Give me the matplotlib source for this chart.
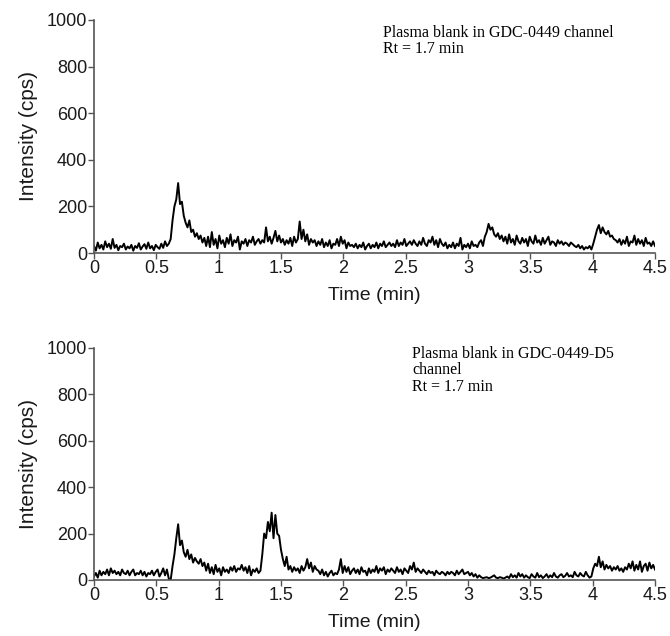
import numpy as np
import matplotlib
matplotlib.use("Agg")
import matplotlib.pyplot as plt

# sampling grid (min), one scan every 0.015 min
time_min = np.linspace(0.0, 4.5, 301)

# Plasma blank, GDC-0449 channel (cps)
top_cps = [
    30, 10, 45, 20, 35, 15, 50, 25, 40, 18,
    60, 22, 35, 12, 30, 25, 40, 15, 28, 20,
    35, 10, 30, 22, 42, 15, 28, 38, 18, 45,
    20, 30, 12, 35, 25, 18, 40, 22, 50, 30,
    40, 60, 140, 200, 230, 300, 210, 220, 160, 130,
    110, 140, 90, 100, 70, 85, 60, 75, 45, 65,
    30, 70, 25, 90, 35, 60, 20, 75, 40, 55,
    25, 65, 40, 80, 30, 55, 45, 70, 15, 50,
    40, 60, 30, 55, 45, 70, 35, 50, 60, 40,
    55, 45, 110, 50, 70, 40, 65, 95, 50, 75,
    45, 60, 35, 55, 40, 65, 30, 70, 45, 60,
    135, 60, 100, 50, 80, 35, 60, 45, 55, 30,
    50, 35, 60, 25, 45, 30, 55, 20, 40, 35,
    60, 30, 70, 40, 55, 20, 45, 30, 35, 25,
    40, 20, 35, 25, 45, 15, 30, 40, 20, 35,
    25, 45, 20, 40, 30, 50, 25, 35, 45, 30,
    40, 25, 55, 30, 45, 35, 60, 30, 40, 50,
    35, 55, 40, 30, 50, 35, 65, 40, 30, 55,
    45, 70, 35, 55, 25, 60, 40, 30, 45, 20,
    35, 25, 45, 20, 40, 30, 65, 15, 35, 25,
    40, 20, 50, 30, 35, 25, 45, 55, 30, 70,
    90, 125, 100, 110, 80, 70, 85, 60, 75, 50,
    70, 40, 80, 45, 60, 35, 75, 50, 40, 65,
    45, 60, 30, 70, 50, 40, 75, 45, 55, 35,
    65, 40, 55, 70, 35, 50, 45, 30, 55, 40,
    50, 35, 45, 40, 30, 45, 38, 30, 25, 35,
    20, 30, 15, 25, 20, 30, 15, 40, 70, 100,
    120, 85, 110, 90, 80, 95, 70, 75, 60, 55,
    45, 60, 35, 55, 40, 70, 30, 50, 45, 75,
    35, 60, 40, 55, 30, 65, 40, 45, 30, 50,
    30,
]

# Plasma blank, GDC-0449-D5 channel (cps)
bottom_cps = [
    15, 30, 10, 40, 20, 35, 25, 45, 20, 50,
    30, 40, 25, 35, 20, 45, 30, 25, 40, 20,
    35, 45, 20, 30, 25, 40, 20, 35, 15, 30,
    25, 40, 20, 35, 45, 15, 30, 50, 20, 45,
    5, 0, 60, 110, 180, 240, 150, 170, 120, 100,
    130, 90, 110, 75, 95, 80, 70, 90, 60, 75,
    40, 70, 30, 55, 25, 65, 35, 50, 20, 55,
    35, 45, 30, 55, 40, 60, 35, 50, 45, 65,
    40, 55, 30, 60, 20, 45, 35, 50, 30, 40,
    110, 200, 180, 250, 210, 290, 180, 280, 200, 190,
    130, 90, 60, 100, 45, 60, 35, 55, 40, 50,
    30, 60, 40, 55, 90, 50, 75, 35, 60, 45,
    40, 25, 45, 20, 35, 15, 30, 40, 20, 30,
    25, 45, 90, 30, 60, 35, 55, 25, 40, 50,
    30, 45, 25, 55, 35, 40, 20, 50, 30, 45,
    35, 60, 30, 50, 40, 55, 25, 45, 35, 50,
    40, 30, 55, 35, 45, 25, 50, 40, 30, 60,
    45, 75, 35, 50, 40, 30, 45, 35, 25, 40,
    30, 35, 20, 40, 30, 25, 35, 30, 20, 35,
    25, 35, 30, 20, 40, 25, 35, 45, 25, 30,
    35, 20, 30, 15, 25, 10, 20, 12, 8, 10,
    12, 8, 10, 15, 20, 10, 8, 12, 10, 6,
    10, 15, 8, 25, 12, 20, 10, 30, 15, 25,
    10, 20, 12, 8, 25, 15, 10, 30, 12, 20,
    8, 15, 25, 10, 20, 12, 30, 15, 10, 20,
    25, 12, 18, 30, 15, 20, 12, 35, 20, 15,
    30, 20, 15, 35, 20, 10, 15, 50, 70, 60,
    100, 55, 80, 45, 65, 50, 60, 40, 55, 45,
    60, 40, 50, 35, 55, 45, 70, 50, 80, 40,
    65, 45, 80, 35, 60, 70, 40, 75, 50, 65,
    45,
]

top_note = "Plasma blank in GDC-0449 channel\nRt = 1.7 min"
bottom_note = "Plasma blank in GDC-0449-D5\nchannel\nRt = 1.7 min"

plt.rcParams['font.family'] = ['Liberation Sans', 'DejaVu Sans']

fig = plt.figure(figsize=(6.70, 6.36), dpi=100)
ax_top = fig.add_axes([0.1403, 0.6022, 0.8373, 0.3664])
ax_bot = fig.add_axes([0.1403, 0.0881, 0.8373, 0.3648])

panels = [(ax_top, top_cps, top_note, 0.515, 0.98),
          (ax_bot, bottom_cps, bottom_note, 0.567, 1.01)]

for ax, cps, note, tx, ty in panels:
    ax.plot(time_min, cps, color='black', lw=1.4)
    ax.set_xlim(0, 4.5)
    ax.set_ylim(0, 1000)
    ax.set_xticks([0, 0.5, 1, 1.5, 2, 2.5, 3, 3.5, 4, 4.5])
    ax.set_xticklabels(['0', '0.5', '1', '1.5', '2', '2.5', '3', '3.5', '4', '4.5'])
    ax.set_yticks([0, 200, 400, 600, 800, 1000])
    for side in ('top', 'right'):
        ax.spines[side].set_visible(False)
    for side in ('left', 'bottom'):
        ax.spines[side].set_color('#555555')
        ax.spines[side].set_linewidth(1.2)
    ax.tick_params(direction='out', length=4, width=1, colors='#555555',
                   labelcolor='#1a1a1a', labelsize=13, pad=1)
    ax.set_xlabel('Time (min)', fontsize=14, color='#1a1a1a', labelpad=7)
    ax.set_ylabel('Intensity (cps)', fontsize=15, color='#1a1a1a', labelpad=6)
    ax.text(tx, ty, note, transform=ax.transAxes, ha='left', va='top',
            family=['Liberation Serif', 'DejaVu Serif'], fontsize=11.5,
            linespacing=1.05, color='black')

fig.savefig('out.png', dpi=100)
